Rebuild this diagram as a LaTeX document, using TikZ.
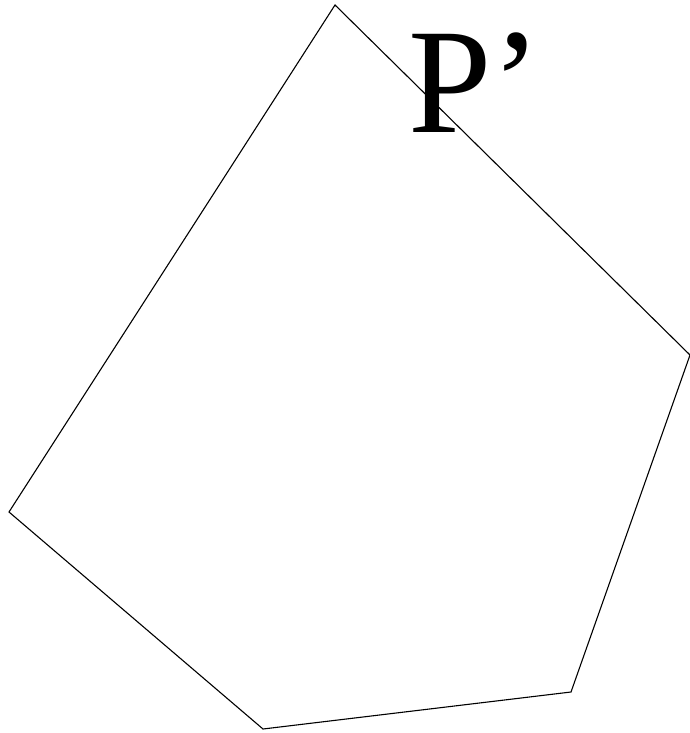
\documentclass[tikz,border=0pt]{standalone}
\usepackage{fontspec}
\setmainfont{Liberation Serif}
\begin{document}
\begin{tikzpicture}[x=1pt,y=-1pt,edge/.style={draw=black,line width=1.1pt,line join=miter}]
\useasboundingbox (0,0) rectangle (690,733);
\coordinate (a) at (335,5);
\coordinate (b) at (690,355);
\coordinate (c) at (571,692);
\coordinate (d) at (263,729);
\coordinate (e) at (9,512);
\draw[edge] (a) -- (b) -- (c) -- (d) -- (e) -- cycle;
\node[anchor=base west,inner sep=0pt,font=\fontsize{150}{150}\selectfont] (lbl) at (408,132) {P’};
\end{tikzpicture}
\end{document}
